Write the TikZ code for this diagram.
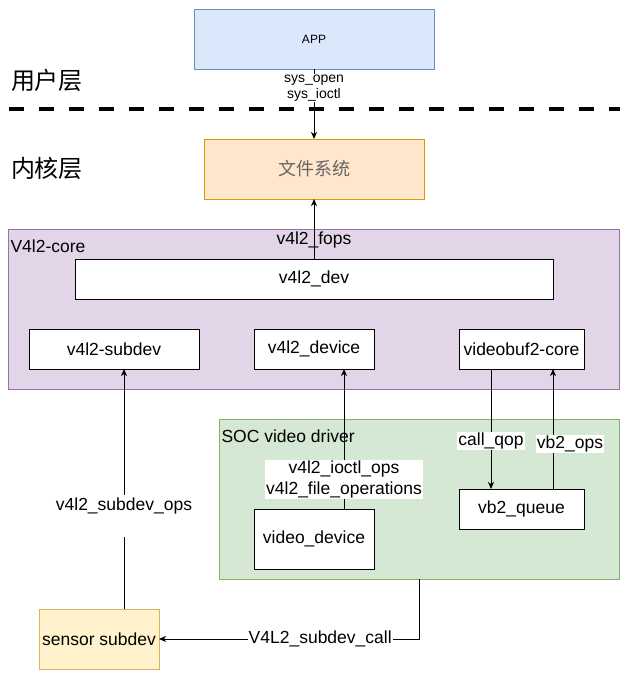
\documentclass[tikz,border=0pt]{standalone}
\usepackage{fontspec}
\usepackage{xcolor}
\usepackage{tikz}
\setmainfont{Liberation Sans}
\newfontfamily\cjk{Noto Sans CJK SC}
\usetikzlibrary{arrows.meta}
\definecolor{appfill}{HTML}{DAE8FC}
\definecolor{appdraw}{HTML}{6C8EBF}
\definecolor{fsfill}{HTML}{FFE6CC}
\definecolor{fsdraw}{HTML}{D79B00}
\definecolor{corefill}{HTML}{E1D5E7}
\definecolor{coredraw}{HTML}{9673A6}
\definecolor{socfill}{HTML}{D5E8D4}
\definecolor{socdraw}{HTML}{82B366}
\definecolor{senfill}{HTML}{FFF2CC}
\definecolor{sendraw}{HTML}{D6B656}

\begin{document}
\begin{tikzpicture}[x=1pt,y=-1pt,line width=1pt,>={Stealth[length=7pt,width=6pt,inset=2pt]},main box/.style={draw,rectangle,inner sep=0pt,outer sep=0pt,font=\fontsize{17.5}{20}\selectfont},edge label/.style={fill=white,inner sep=1pt,align=center,font=\fontsize{17.5}{21}\selectfont}]
\tikzstyle{layer text} = [font=\cjk\fontsize{24}{26}\selectfont]
\useasboundingbox (0,0) rectangle (628,689);
\coordinate (sepL) at (9,109);
\coordinate (sepR) at (620,109);

% Draw user and kernel layers
\node[layer text] (user) at (47,80) {用户层};
\node[layer text] (kernel) at (47,168) {内核层};
\draw[line width=4pt,dash pattern=on 15pt off 15pt] (sepL) -- (sepR);

\node[main box,fill=appfill,draw=appdraw,minimum width=240,minimum height=60,font=\fontsize{12}{14}\selectfont] (app) at (314,39) {APP};
\node[main box,fill=fsfill,draw=fsdraw,minimum width=220,minimum height=60,text=black!60,font=\cjk\fontsize{18}{20}\selectfont] (fs) at (314,169) {文件系统};

% Draw v4l2 core
\node[main box,fill=corefill,draw=coredraw,minimum width=611,minimum height=160] (core) at (313.5,309) {};
\node[anchor=west,inner sep=0pt,font=\fontsize{17.5}{20}\selectfont] (corename) at (10,246) {V4l2-core};
\node[main box,fill=white,minimum width=478,minimum height=40] (dev) at (314,279) {v4l2\_dev};
\node[main box,fill=white,minimum width=170,minimum height=40] (subdev) at (114,349) {v4l2-subdev};
\node[main box,fill=white,minimum width=120,minimum height=40] (device) at (314,349) {v4l2\_device};
\node[main box,fill=white,minimum width=125,minimum height=40] (vbcore) at (521.5,349) {videobuf2-core};

% Draw SOC driver
\node[main box,fill=socfill,draw=socdraw,minimum width=400,minimum height=160] (soc) at (419,499) {};
\node[anchor=west,inner sep=0pt,font=\fontsize{17.5}{20}\selectfont] (socname) at (221,436) {SOC video driver};
\node[main box,fill=white,minimum width=120,minimum height=60] (vdev) at (314,539) {video\_device};
\node[main box,fill=white,minimum width=125,minimum height=40] (vbq) at (521.5,509) {vb2\_queue};

\node[main box,fill=senfill,draw=sendraw,minimum width=120,minimum height=60] (sensor) at (99,639) {sensor subdev};

% Draw calls
\draw[->] (app.south) -- (fs.north) node[edge label,pos=0.27,font=\fontsize{14}{16}\selectfont] {sys\_open\\sys\_ioctl};
\draw[->] (dev.north) -- (fs.south);
\node[font=\fontsize{17.5}{20}\selectfont] (fops) at (314,240) {v4l2\_fops};
\draw[->] ([xshift=30pt]vdev.north) -- ([xshift=30pt]device.south) node[edge label,pos=0.21] {v4l2\_ioctl\_ops\\v4l2\_file\_operations};
\draw[->] ([xshift=-30.5pt]vbcore.south) -- ([xshift=-30.5pt]vbq.north) node[edge label,pos=0.6] {call\_qop};
\draw[->] ([xshift=31.5pt]vbq.north) -- ([xshift=31.5pt]vbcore.south);
\node[edge label] (vbops) at (570,444) {vb2\_ops};
\draw[->] ([xshift=25pt]sensor.north) -- ([xshift=10pt]subdev.south) node[edge label,pos=0.4125,anchor=base,text height=14pt,text depth=26pt] {v4l2\_subdev\_ops};
\draw[->] (soc.south) |- (sensor.east) node[edge label,pos=0.69] {V4L2\_subdev\_call};

\end{tikzpicture}
\end{document}
